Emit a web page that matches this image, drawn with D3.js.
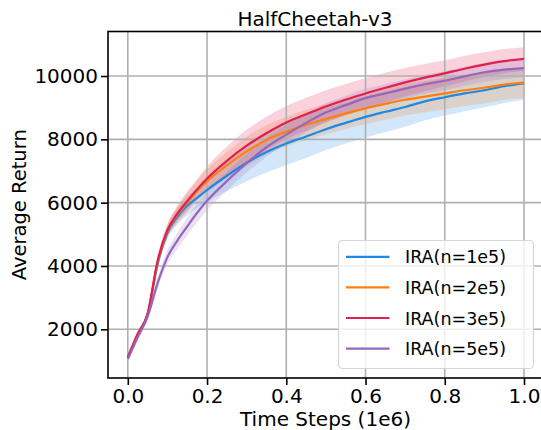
<!DOCTYPE html>
<html>
<head>
<meta charset="utf-8">
<script src="https://cdn.jsdelivr.net/npm/d3@7"></script>
<style>
    body { margin: 0; background: #fff; }
    svg { display: block; }
</style>
</head>
<body>
<svg></svg>
<script>
// time steps (1e6)
var steps = [0, 0.025, 0.05, 0.075, 0.1, 0.125, 0.15, 0.175, 0.2, 0.25, 0.3, 0.35, 0.4,
    0.45, 0.5, 0.55, 0.6, 0.65, 0.7, 0.75, 0.8, 0.85, 0.9, 0.95, 1.0]

var seriesNames = ["IRA(n=1e5)", "IRA(n=2e5)", "IRA(n=3e5)", "IRA(n=5e5)"]
var seriesColors = ["#1e88e5", "#ff7f0e", "#e0204f", "#9467bd"]

var meanN1 = [1100, 1820, 2450, 4050, 5050, 5550, 5900, 6150, 6400, 6850, 7260, 7600, 7870,
    8090, 8320, 8520, 8710, 8870, 9020, 9200, 9330, 9450, 9550, 9680, 9770]
var meanN2 = [1100, 1850, 2480, 4100, 5100, 5620, 6000, 6370, 6680, 7180, 7620, 7980, 8240,
    8460, 8640, 8820, 8980, 9120, 9250, 9350, 9450, 9550, 9630, 9730, 9790]
var meanN3 = [1120, 1850, 2500, 4150, 5130, 5650, 6050, 6420, 6760, 7320, 7800, 8190, 8530,
    8790, 9040, 9250, 9450, 9630, 9800, 9950, 10085, 10230, 10360, 10470, 10540]
var meanN5 = [1060, 1750, 2400, 3450, 4280, 4800, 5250, 5680, 6060, 6680, 7250, 7750, 8150,
    8520, 8850, 9080, 9300, 9450, 9600, 9740, 9850, 9990, 10120, 10200, 10250]

var stdN1 = [60, 80, 100, 150, 200, 250, 300, 330, 380, 480, 580, 650, 680,
    680, 660, 650, 650, 640, 620, 600, 580, 560, 540, 530, 520]
var stdN2 = [60, 80, 100, 150, 200, 250, 300, 330, 370, 420, 460, 470, 470,
    480, 480, 490, 500, 500, 500, 500, 500, 500, 500, 490, 480]
var stdN3 = [60, 80, 100, 150, 200, 250, 300, 330, 380, 450, 500, 520, 520,
    520, 510, 500, 480, 470, 450, 430, 410, 400, 390, 380, 370]
var stdN5 = [80, 100, 120, 170, 220, 260, 280, 300, 300, 300, 300, 300, 300,
    300, 300, 300, 300, 300, 300, 300, 300, 300, 300, 300, 300]

var xTicks = [0, 0.2, 0.4, 0.6, 0.8, 1.0]
var yTicks = [2000, 4000, 6000, 8000, 10000]

var FONT = "DejaVu Sans"

var buildSeries = function () {
    var means = [meanN1, meanN2, meanN3, meanN5]
    var stds = [stdN1, stdN2, stdN3, stdN5]
    return seriesNames.map(function (name, i) {
        return {
            name: name,
            color: seriesColors[i],
            points: steps.map(function (s, j) {
                return { x: s, mean: means[i][j], std: stds[i][j] }
            })
        }
    })
}

var makeTranslateString = function (x, y) {
    return "translate(" + x + "," + y + ")";
}

var initGraph = function (series) {
    var screen = { width: 541, height: 430 }
    var margins = { left: 108, top: 31.5, bottom: 52 }
    var graph = {
        width: 435.8,
        height: screen.height - margins.top - margins.bottom
    }

    var svg = d3.select("svg")
        .attr("width", screen.width)
        .attr("height", screen.height)
        .attr("font-family", FONT)

    var xScale = d3.scaleLinear()
        .domain([-0.05, 1.05])
        .range([0, graph.width])

    var yScale = d3.scaleLinear()
        .domain([462, 11406])
        .range([graph.height, 0])

    var target = svg.append("g")
        .attr("id", "graph")
        .attr("transform", makeTranslateString(margins.left, margins.top))

    // std bands
    var area = d3.area()
        .x(function (p) { return xScale(p.x) })
        .y0(function (p) { return yScale(p.mean - p.std) })
        .y1(function (p) { return yScale(p.mean + p.std) })
        .curve(d3.curveMonotoneX)

    target.append("g")
        .selectAll("path")
        .data(series)
        .enter()
        .append("path")
        .attr("d", function (s) { return area(s.points) })
        .attr("fill", function (s) { return s.color })
        .attr("fill-opacity", 0.2)
        .attr("stroke", "none")

    // grid
    var grid = target.append("g")
        .attr("stroke", "#b0b0b0")
        .attr("stroke-width", 1.6)
    grid.selectAll(".gx")
        .data(xTicks)
        .enter()
        .append("line")
        .attr("x1", function (d) { return xScale(d) })
        .attr("x2", function (d) { return xScale(d) })
        .attr("y1", 0)
        .attr("y2", graph.height)
    grid.selectAll(".gy")
        .data(yTicks)
        .enter()
        .append("line")
        .attr("x1", 0)
        .attr("x2", graph.width)
        .attr("y1", function (d) { return yScale(d) })
        .attr("y2", function (d) { return yScale(d) })

    // mean lines
    var line = d3.line()
        .x(function (p) { return xScale(p.x) })
        .y(function (p) { return yScale(p.mean) })
        .curve(d3.curveMonotoneX)

    target.append("g")
        .selectAll("path")
        .data(series)
        .enter()
        .append("path")
        .attr("d", function (s) { return line(s.points) })
        .attr("fill", "none")
        .attr("stroke", function (s) { return s.color })
        .attr("stroke-width", 2.2)

    // frame
    target.append("rect")
        .attr("width", graph.width)
        .attr("height", graph.height)
        .attr("fill", "none")
        .attr("stroke", "#000")
        .attr("stroke-width", 1.6)

    var xAxis = d3.axisBottom(xScale)
        .tickValues(xTicks)
        .tickFormat(d3.format(".1f"))
        .tickSize(7)
        .tickPadding(4)
        .tickSizeOuter(0)

    var yAxis = d3.axisLeft(yScale)
        .tickValues(yTicks)
        .tickFormat(d3.format("d"))
        .tickSize(7)
        .tickPadding(3)
        .tickSizeOuter(0)

    var gx = target.append("g")
        .attr("transform", makeTranslateString(0, graph.height))
        .call(xAxis)
    var gy = target.append("g")
        .call(yAxis)
    ;[gx, gy].forEach(function (g) {
        g.attr("font-family", FONT).attr("font-size", 20)
        g.select(".domain").remove()
        g.selectAll(".tick line").attr("stroke", "#000").attr("stroke-width", 1.6)
        g.selectAll(".tick text").attr("fill", "#000")
    })

    drawLabels(svg, graph, margins)
    drawLegend(svg, series)
}

var drawLabels = function (svg, graph, margins) {
    svg.append("text")
        .text("HalfCheetah-v3")
        .attr("text-anchor", "middle")
        .attr("x", 315)
        .attr("y", 25.5)
        .attr("font-family", FONT)
        .attr("font-size", 20)
    svg.append("text")
        .text("Time Steps (1e6)")
        .attr("text-anchor", "middle")
        .attr("x", 325.5)
        .attr("y", 425.5)
        .attr("font-family", FONT)
        .attr("font-size", 20)
    svg.append("text")
        .text("Average Return")
        .attr("text-anchor", "middle")
        .attr("transform", makeTranslateString(25.5, margins.top + graph.height / 2) + " rotate(-90)")
        .attr("font-family", FONT)
        .attr("font-size", 19.5)
}

var drawLegend = function (svg, series) {
    var legend = svg.append("g")
        .attr("transform", makeTranslateString(338.5, 240.5))
    legend.append("rect")
        .attr("width", 195)
        .attr("height", 128)
        .attr("rx", 4)
        .attr("fill", "#fff")
        .attr("fill-opacity", 0.8)
        .attr("stroke", "#d6d6d6")
        .attr("stroke-width", 1.2)

    var rows = legend.selectAll(".row")
        .data(series)
        .enter()
        .append("g")
        .attr("transform", function (s, i) {
            return makeTranslateString(0, 16.3 + i * 30.6)
        })
    rows.append("line")
        .attr("x1", 7.5)
        .attr("x2", 51)
        .attr("stroke", function (s) { return s.color })
        .attr("stroke-width", 2.2)
    rows.append("text")
        .text(function (s) { return s.name })
        .attr("x", 66.5)
        .attr("y", 6.5)
        .attr("font-family", FONT)
        .attr("font-size", 17.5)
}

initGraph(buildSeries())
</script>
</body>
</html>
